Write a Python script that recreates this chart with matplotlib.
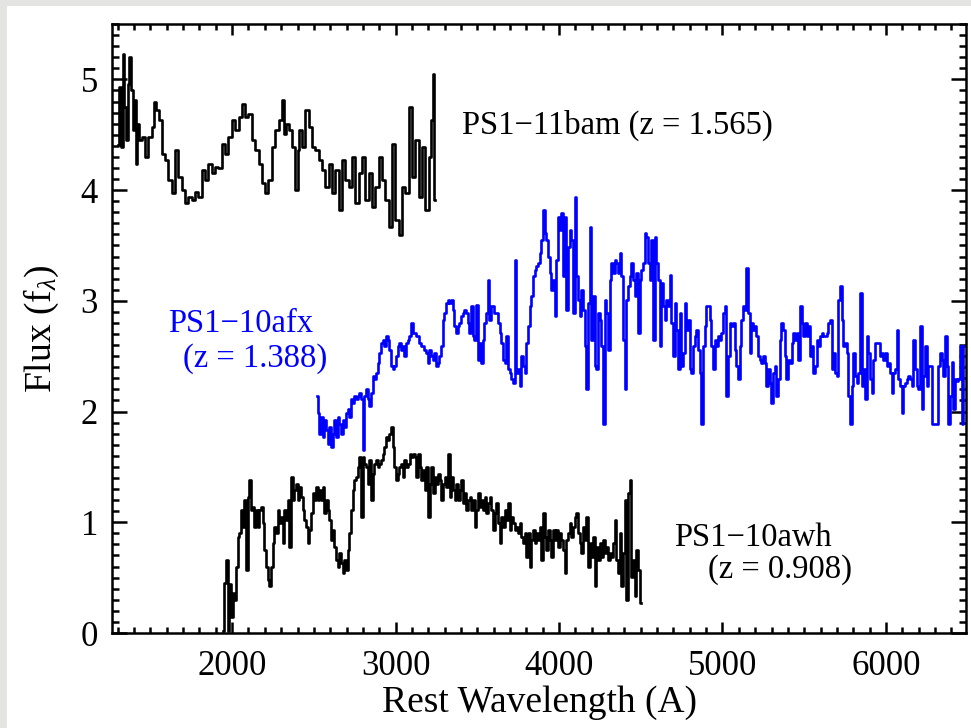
import numpy as np
import matplotlib
matplotlib.use("Agg")
import matplotlib.pyplot as plt
from matplotlib.patches import Rectangle
from matplotlib.ticker import MultipleLocator

plt.rcParams['font.family'] = ['Liberation Serif', 'DejaVu Serif']
plt.rcParams['mathtext.fontset'] = 'custom'
plt.rcParams['mathtext.rm'] = 'Liberation Serif'
plt.rcParams['mathtext.it'] = 'Liberation Serif:italic'

# ---- PS1-11bam (z = 1.565), offset spectrum ----
bam_wave = [1302, 1314, 1324, 1335, 1345, 1355, 1365, 1375, 1386, 1396, 1406, 1416, 1426,
            1437, 1457, 1478, 1498, 1518, 1529, 1543, 1559, 1580, 1600, 1620, 1641, 1661,
            1682, 1702, 1722, 1743, 1763, 1784, 1804, 1824, 1845, 1865, 1886, 1906, 1927,
            1947, 1967, 1988, 2008, 2029, 2049, 2069, 2090, 2110, 2131, 2151, 2172, 2192,
            2212, 2233, 2253, 2274, 2294, 2314, 2325, 2335, 2355, 2376, 2396, 2406, 2417,
            2437, 2457, 2478, 2498, 2519, 2539, 2559, 2580, 2600, 2621, 2641, 2661, 2682,
            2702, 2723, 2743, 2764, 2784, 2804, 2825, 2845, 2866, 2886, 2906, 2927, 2947,
            2968, 2988, 3008, 3029, 3049, 3070, 3090, 3110, 3131, 3151, 3172, 3192, 3213,
            3223, 3233, 3243]
bam_flux = [4.41, 4.93, 4.39, 5.23, 4.75, 4.45, 4.96, 5.20, 4.90, 4.54, 4.81, 4.24, 4.60,
            4.45, 4.48, 4.30, 4.48, 4.57, 4.80, 4.72, 4.63, 4.33, 4.27, 4.09, 3.97, 4.36,
            4.12, 4.00, 3.88, 3.94, 3.91, 3.98, 3.94, 4.18, 4.09, 4.24, 4.15, 4.21, 4.20,
            4.42, 4.33, 4.48, 4.63, 4.54, 4.66, 4.78, 4.66, 4.69, 4.45, 4.36, 4.24, 4.06,
            3.97, 4.09, 4.39, 4.54, 4.63, 4.81, 4.51, 4.60, 4.54, 4.39, 4.00, 4.36, 4.54,
            4.39, 4.72, 4.57, 4.39, 4.36, 4.27, 4.18, 4.03, 4.24, 3.97, 4.18, 3.82, 4.27,
            4.09, 4.03, 4.30, 3.88, 4.15, 4.30, 3.91, 4.15, 3.85, 4.03, 4.30, 4.09, 3.91,
            3.67, 4.42, 3.73, 3.59, 4.03, 3.97, 4.75, 4.12, 4.45, 3.94, 4.39, 3.82, 4.30,
            4.63, 5.05, 3.91]

# ---- PS1-10afx (z = 1.388), sampled on an even grid from 2518 to 6479 A ----
afx_range = (2518.0, 6479.0)
afx_flux = [
    2.14, 1.99, 1.80, 1.95, 1.77, 1.92, 1.83, 1.71, 1.86, 1.68, 1.80, 1.92, 1.77, 1.95,
    1.89, 1.80, 1.92, 1.86, 1.99, 2.02, 1.95, 2.11, 2.08, 2.14, 2.11, 2.14, 2.17, 2.11,
    1.65, 2.14, 2.20, 2.11, 2.05, 2.17, 2.32, 2.29, 2.35, 2.44, 2.53, 2.62, 2.65, 2.59,
    2.68, 2.65, 2.56, 2.41, 2.38, 2.41, 2.50, 2.59, 2.62, 2.56, 2.59, 2.50, 2.62, 2.65,
    2.68, 2.80, 2.71, 2.71, 2.68, 2.68, 2.62, 2.59, 2.59, 2.56, 2.53, 2.44, 2.56, 2.50,
    2.47, 2.53, 2.41, 2.44, 2.50, 2.59, 2.83, 2.89, 2.98, 3.01, 2.98, 3.01, 2.92, 2.77,
    2.71, 2.77, 2.80, 2.86, 2.89, 2.92, 2.89, 2.80, 2.71, 2.95, 2.68, 2.65, 2.96, 2.47,
    2.62, 2.44, 2.65, 2.80, 2.89, 3.19, 2.83, 2.95, 2.95, 2.89, 2.89, 2.80, 2.71, 2.62,
    2.47, 2.44, 2.68, 2.38, 2.35, 2.29, 2.26, 3.37, 2.35, 2.38, 2.23, 2.50, 2.41, 2.35,
    2.62, 2.77, 2.95, 3.04, 3.22, 3.28, 3.31, 3.34, 3.43, 3.55, 3.82, 3.61, 3.55, 3.40,
    3.25, 3.10, 3.19, 2.86, 3.37, 3.76, 3.64, 3.79, 3.22, 3.76, 2.92, 3.49, 3.64, 3.55,
    2.89, 3.94, 3.22, 3.01, 2.86, 3.10, 2.92, 2.59, 2.20, 2.98, 3.67, 2.65, 3.04, 2.41,
    2.38, 2.89, 2.83, 2.59, 1.89, 3.01, 2.89, 2.56, 3.19, 3.34, 3.25, 3.37, 3.34, 3.25,
    3.43, 3.22, 2.65, 2.20, 3.01, 3.13, 3.22, 3.34, 3.19, 3.04, 3.25,
    2.71, 3.19, 3.28, 3.34, 3.61, 3.58, 3.34, 3.19, 3.55, 2.65, 3.58, 3.34, 3.19, 2.59,
    3.16, 2.95, 2.83, 3.01, 2.95, 3.23, 2.80, 2.50, 2.98, 2.74, 2.38, 2.89, 2.41, 2.53,
    2.98, 2.74, 2.83, 2.38, 2.35, 2.59, 2.68, 2.74, 2.56, 2.35, 1.89, 2.59, 2.77, 2.95,
    2.95, 2.83, 2.59, 2.38, 2.65, 2.59, 2.68, 2.65, 2.71, 2.89, 2.95, 2.14, 2.50, 2.80,
    2.77, 2.80, 2.56, 2.41, 2.29, 2.59, 2.83, 2.95, 2.92, 3.30, 2.89, 2.53, 2.80, 2.74,
    2.77, 2.68, 2.50, 2.47, 2.44, 2.50, 2.44, 2.23, 2.38, 2.26, 2.08, 2.35, 2.41, 2.14,
    2.29, 2.65, 2.80, 2.74, 2.50, 2.29, 2.47, 2.44, 2.62, 2.71, 2.65, 2.71, 2.47, 2.95,
    2.80, 2.68, 2.80, 2.68, 2.77, 2.50, 2.59, 2.35, 2.41, 2.65, 2.59, 2.68, 2.71, 2.68,
    2.68, 2.71, 2.80, 2.83, 2.38, 2.53, 2.35, 2.32, 3.01, 3.13, 2.83, 2.59, 2.62, 2.53,
    2.14, 1.89, 2.23, 2.53, 2.32, 2.26, 2.35, 3.07, 2.23, 2.38, 2.11, 2.68, 2.53, 2.29,
    2.17, 2.47, 2.62, 2.62, 2.62, 2.50, 2.53, 2.47, 2.53, 2.41, 2.44, 2.35, 2.17, 2.35,
    2.38, 2.74, 2.29, 2.23, 1.99, 2.23, 2.26, 2.29, 2.32, 2.29, 2.23, 2.65, 2.38, 2.23,
    2.20, 2.77, 2.02, 2.32, 2.59, 2.23, 2.41, 2.41, 1.89, 1.89, 1.89, 1.89, 2.41, 2.53,
    2.47, 2.32, 2.68, 2.41, 1.89, 2.14, 2.45, 2.02, 2.29, 2.28, 2.29, 2.59, 1.89, 2.59]

# ---- PS1-10awh (z = 0.908), sampled on an even grid from 1947 to 4499 A ----
awh_range = (1947.0, 4499.0)
awh_flux = [
    0.02, 0.45, 0.66, 0.02, 0.44, 0.14, 0.36, 0.30, 0.60, 0.87, 0.90,
    1.11, 0.96, 1.20, 0.57, 1.23, 1.38, 1.11, 1.14, 0.96, 1.11, 0.96, 1.11, 1.14, 0.99,
    0.75, 0.60, 0.48, 0.42, 0.60, 0.81, 0.96, 0.90, 1.11, 0.99, 1.05, 0.81, 1.11, 1.02,
    1.20, 0.78, 1.41, 1.20, 1.29, 1.35, 1.20, 1.32, 1.23, 1.11, 1.02, 0.96, 0.81, 0.93,
    1.08, 1.26, 1.20, 1.32, 1.20, 1.29, 1.20, 1.32, 1.08, 1.20, 1.11, 1.02, 0.84, 0.93,
    0.78, 0.66, 0.60, 0.72, 0.63, 0.54, 0.66, 0.57, 0.75, 0.90, 1.11, 1.29, 1.38, 1.41,
    1.50, 1.59, 1.05, 1.59, 1.53, 1.50, 1.35, 1.56, 1.20, 1.44, 1.53, 1.56, 1.50, 1.53,
    1.56, 1.62, 1.68, 1.77, 1.74, 1.80, 1.86, 1.68, 1.50, 1.38, 1.44, 1.50, 1.53, 1.41,
    1.56, 1.50, 1.53, 1.62, 1.59, 1.62, 1.59, 1.41, 1.62, 1.50, 1.38, 1.47, 1.29, 1.50,
    1.05, 1.35, 1.50, 1.26, 1.41, 1.35, 1.44, 1.38, 1.20, 1.35, 1.41, 1.32, 1.62, 1.23,
    1.41, 1.29, 1.20, 1.35, 1.20, 1.29, 1.38, 1.17, 1.26, 1.11, 1.20, 1.23, 1.11, 1.20,
    0.96, 1.11, 1.26, 1.14, 1.20, 1.11, 1.23, 1.08, 1.17, 1.23, 1.11, 0.93, 1.08, 1.17,
    0.99, 0.81, 1.05, 0.96, 1.11, 1.02, 1.17, 0.93, 1.05, 0.99, 0.93, 0.96, 0.90, 0.99,
    0.87, 0.81, 0.90, 0.69, 0.90, 0.60, 0.84, 0.93, 0.81, 0.90, 0.84, 0.96, 0.66, 1.08,
    0.87, 0.75, 0.93, 0.84, 0.69, 0.93, 0.84, 0.93, 0.78, 0.90, 0.84, 0.75, 0.54, 0.84,
    0.90, 0.99, 0.87, 0.96, 1.05, 1.08, 0.90, 0.81, 0.72, 0.96, 0.84, 1.05, 0.60, 0.81,
    0.69, 0.87, 0.42, 0.78, 0.66, 0.81, 0.69, 0.84, 0.72, 0.78, 0.66, 0.72, 0.69, 0.81,
    1.02, 0.66, 0.54, 0.90, 0.42, 0.72, 1.20, 0.30, 1.26, 1.38, 0.51, 0.66, 0.33, 0.75,
    0.57, 0.27]

x_limits = (1265, 6490)
y_limits = (0.0, 5.5)
x_major = [2000, 3000, 4000, 5000, 6000]
y_major = [0, 1, 2, 3, 4, 5]

W, H = 971, 728
fig = plt.figure(figsize=(W / 100, H / 100), dpi=100)
fig.patch.set_facecolor('#e4e4e2')
# white page panel
fig.add_artist(Rectangle((7 / W, 0), 1 - 7 / W, 1 - 6 / H, transform=fig.transFigure,
                         facecolor='white', edgecolor='none', zorder=0))

ax = fig.add_axes([112 / W, (H - 633) / H, (966 - 112) / W, (633 - 24) / H])
ax.set_facecolor('white')

afx_wave = np.linspace(afx_range[0], afx_range[1], len(afx_flux))
awh_wave = np.linspace(awh_range[0], awh_range[1], len(awh_flux))

lw = 1.9
ax.plot(bam_wave, bam_flux, color='black', lw=lw, drawstyle='steps-mid')
ax.plot(awh_wave, awh_flux, color='black', lw=lw, drawstyle='steps-mid')
ax.plot(afx_wave, afx_flux, color='#0000ff', lw=lw, drawstyle='steps-mid')

ax.set_xlim(*x_limits)
ax.set_ylim(*y_limits)
ax.set_xticks(x_major)
ax.set_yticks(y_major)
ax.xaxis.set_minor_locator(MultipleLocator(100))
ax.yaxis.set_minor_locator(MultipleLocator(0.1))

ax.tick_params(axis='both', which='both', direction='in', top=True, right=True,
               width=1.8, labelsize=25)
ax.tick_params(axis='x', which='major', length=8, pad=12)
ax.tick_params(axis='x', which='minor', length=4)
ax.tick_params(axis='y', which='major', length=11, pad=10)
ax.tick_params(axis='y', which='minor', length=5)
for s in ax.spines.values():
    s.set_linewidth(1.8)

ax.set_xlabel('Rest Wavelength (A)', fontsize=27, labelpad=2)
ax.set_ylabel(r'Flux (f$_\lambda$)', fontsize=27, labelpad=14)

txt = dict(fontsize=23.5, va='center', ha='left')
ax.text(3408, 4.58, 'PS1\u221211bam (z = 1.565)', color='black', **txt)
ax.text(1608, 2.79, 'PS1\u221210afx', color='#0000ff', **txt)
ax.text(1700, 2.48, '(z = 1.388)', color='#0000ff', **txt)
ax.text(4701, 0.86, 'PS1\u221210awh', color='black', **txt)
ax.text(4909, 0.57, '(z = 0.908)', color='black', **txt)

fig.savefig('out.png', dpi=100, facecolor=fig.get_facecolor())
